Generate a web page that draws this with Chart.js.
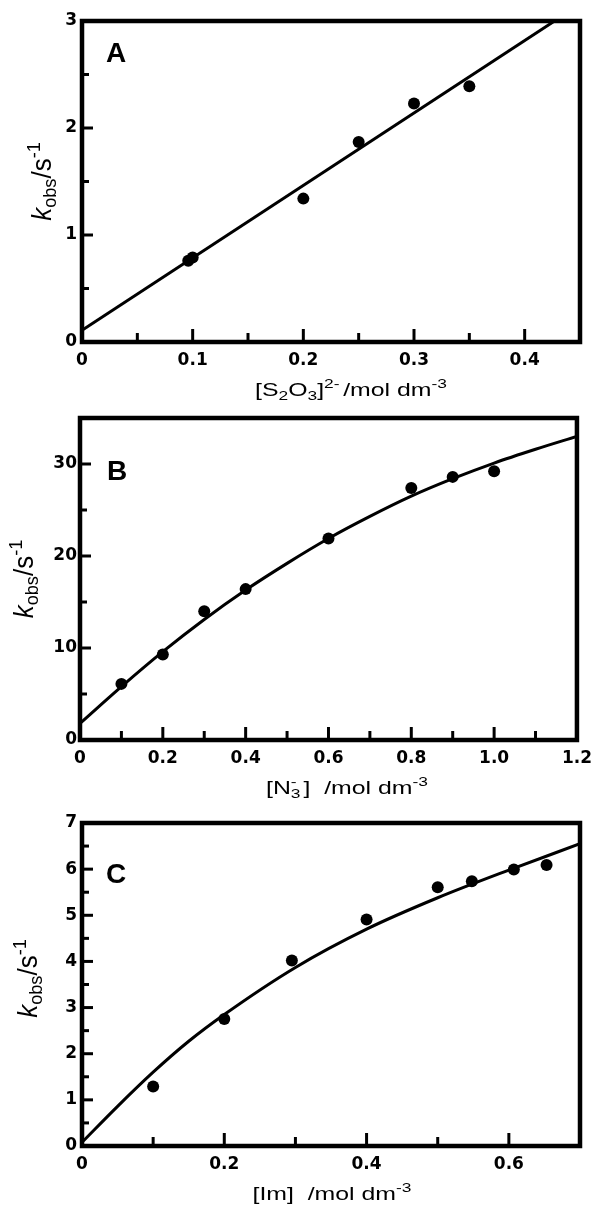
<!DOCTYPE html>
<html>
<head>
<meta charset="utf-8">
<script src="https://cdn.jsdelivr.net/npm/chart.js@4.4.1/dist/chart.umd.min.js"></script>
<style>
    html, body { margin: 0; padding: 0; background: #fff; width: 600px; height: 1208px; overflow: hidden; }
    .panel { position: absolute; left: 0; width: 600px; }
</style>
</head>
<body>
<div class="panel" style="top:0;height:400px"><canvas id="chartA" width="600" height="400"></canvas></div>
<div class="panel" style="top:400px;height:400px"><canvas id="chartB" width="600" height="400"></canvas></div>
<div class="panel" style="top:800px;height:408px"><canvas id="chartC" width="600" height="408"></canvas></div>
<script>
// A: thiosulfate
const aX = [0.096, 0.1, 0.2, 0.25, 0.3, 0.35]
const aY = [0.76, 0.79, 1.34, 1.87, 2.23, 2.39]
const aFitX = [0, 0.427]
const aFitY = [0.11, 3.0]
const aXTicks = [0, 0.1, 0.2, 0.3, 0.4]
const aXLabels = ["0", "0.1", "0.2", "0.3", "0.4"]
const aXMinor = [0.05, 0.15, 0.25, 0.35]
const aYTicks = [0, 1, 2, 3]
const aYMinor = [0.5, 1.5, 2.5]

// B: azide
const bX = [0.1, 0.2, 0.3, 0.4, 0.6, 0.8, 0.9, 1.0]
const bY = [6.1, 9.3, 14.0, 16.4, 21.9, 27.4, 28.6, 29.2]
const bFitX = [0, 0.1, 0.2, 0.3, 0.4, 0.5, 0.6, 0.7, 0.8, 0.9, 1.0, 1.1, 1.2]
const bFitY = [1.8, 5.8, 9.6, 13.1, 16.3, 19.2, 21.9, 24.3, 26.5, 28.4, 30.1, 31.6, 33.0]
const bXTicks = [0, 0.2, 0.4, 0.6, 0.8, 1.0, 1.2]
const bXLabels = ["0", "0.2", "0.4", "0.6", "0.8", "1.0", "1.2"]
const bXMinor = [0.1, 0.3, 0.5, 0.7, 0.9, 1.1]
const bYTicks = [0, 10, 20, 30]
const bYMinor = [5, 15, 25]

// C: imidazole
const cX = [0.1, 0.2, 0.295, 0.4, 0.5, 0.548, 0.607, 0.653]
const cY = [1.29, 2.75, 4.02, 4.91, 5.61, 5.74, 5.99, 6.09]
const cFitX = [0, 0.05, 0.1, 0.15, 0.2, 0.3, 0.4, 0.5, 0.6, 0.7]
const cFitY = [0.08, 0.86, 1.6, 2.27, 2.85, 3.87, 4.7, 5.38, 5.98, 6.55]
const cXTicks = [0, 0.2, 0.4, 0.6]
const cXLabels = ["0", "0.2", "0.4", "0.6"]
const cXMinor = [0.1, 0.3, 0.5]
const cYTicks = [0, 1, 2, 3, 4, 5, 6, 7]
const cYMinor = [0.5, 1.5, 2.5, 3.5, 4.5, 5.5, 6.5]

const yTitle = [{ t: "k", it: true }, { t: "obs", sub: true }, { t: "/s" }, { t: "-1", sup: true }]

function pairs(xs, ys) {
    return xs.map((x, i) => ({ x: x, y: ys[i] }))
}

function drawRich(ctx, parts, x, y, size, sx, vertical) {
    ctx.save()
    ctx.translate(x, y)
    ctx.scale(sx, 1)
    if (vertical) ctx.rotate(-Math.PI / 2)
    ctx.fillStyle = "#000"
    ctx.textBaseline = "alphabetic"
    ctx.textAlign = "left"
    const fontOf = p => (p.it ? "italic " : "") + (p.sub || p.sup ? size * 0.7 : size) + "px 'Liberation Sans', Arial, sans-serif"
    let total = 0
    parts.forEach(p => {
        ctx.font = fontOf(p)
        p.w = ctx.measureText(p.t).width + (p.gap || 0) * size
        total += p.w
    })
    let cx = -total / 2
    parts.forEach(p => {
        ctx.font = fontOf(p)
        const dy = p.sub ? 0.2 * size : p.sup ? -0.42 * size : 0
        ctx.fillText(p.t, cx, dy)
        if (p.over) ctx.fillText(p.over, cx, -0.45 * size)
        cx += p.w
    })
    ctx.restore()
}

// frame, tick marks, titles and panel letter
const decor = {
    id: "decor",
    afterDatasetsDraw(chart, args, o) {
        const ctx = chart.ctx
        const a = chart.chartArea
        const xs = chart.scales.x
        const ys = chart.scales.y
        ctx.save()
        ctx.strokeStyle = "#000"
        ctx.lineWidth = 3
        ctx.lineCap = "butt"
        const xt = (v, len) => {
            const px = xs.getPixelForValue(v)
            ctx.beginPath(); ctx.moveTo(px, a.bottom); ctx.lineTo(px, a.bottom - len); ctx.stroke()
        }
        const yt = (v, len) => {
            const py = ys.getPixelForValue(v)
            ctx.beginPath(); ctx.moveTo(a.left, py); ctx.lineTo(a.left + len, py); ctx.stroke()
        }
        o.xTicks.forEach(v => xt(v, 13))
        o.xMinor.forEach(v => xt(v, 9))
        o.yTicks.forEach(v => yt(v, 11))
        o.yMinor.forEach(v => yt(v, 7))
        ctx.lineWidth = 4.5
        ctx.strokeRect(a.left, a.top, a.right - a.left, a.bottom - a.top)
        ctx.restore()

        ctx.save()
        ctx.fillStyle = "#000"
        ctx.font = "bold 28px 'Liberation Sans', Arial, sans-serif"
        ctx.textBaseline = "alphabetic"
        ctx.fillText(o.letter, o.letterX, o.letterY)
        ctx.restore()

        drawRich(ctx, o.xTitle, o.xTitleX, a.bottom + 54, 18, 1.38, false)
        drawRich(ctx, yTitle, o.yTitleX, (a.top + a.bottom) / 2 + (o.yTitleDy || 0), 26, 1.05, true)
    }
}

function makePanel(id, pts, fit, p) {
    const tickFont = { family: "'DejaVu Sans', sans-serif", size: 17, weight: "bold" }
    return new Chart(document.getElementById(id), {
        type: "scatter",
        data: {
            datasets: [
                {
                    data: fit,
                    showLine: true,
                    pointRadius: 0,
                    borderColor: "#000",
                    borderWidth: 3,
                    cubicInterpolationMode: "monotone",
                    order: 2
                },
                {
                    data: pts,
                    pointRadius: 6,
                    pointBackgroundColor: "#000",
                    pointBorderWidth: 0,
                    order: 1
                }
            ]
        },
        options: {
            responsive: false,
            animation: false,
            devicePixelRatio: 1,
            events: [],
            layout: { padding: { top: p.top, right: p.right, left: 0, bottom: 0 } },
            plugins: {
                legend: { display: false },
                tooltip: { enabled: false },
                decor: p
            },
            scales: {
                x: {
                    type: "linear",
                    min: 0,
                    max: p.xMax,
                    afterFit: s => { s.height = p.xAxisH },
                    afterBuildTicks: s => { s.ticks = p.xTicks.map(v => ({ value: v })) },
                    ticks: {
                        color: "#000",
                        font: tickFont,
                        padding: 8,
                        maxRotation: 0,
                        autoSkip: false,
                        callback: (v, i) => p.xLabels[i]
                    },
                    grid: { display: false, drawTicks: false },
                    border: { display: false }
                },
                y: {
                    type: "linear",
                    min: 0,
                    max: p.yMax,
                    afterFit: s => { s.width = p.left },
                    afterBuildTicks: s => { s.ticks = p.yTicks.map(v => ({ value: v })) },
                    ticks: {
                        color: "#000",
                        font: tickFont,
                        padding: p.yPad,
                        autoSkip: false,
                        callback: v => String(v)
                    },
                    grid: { display: false, drawTicks: false },
                    border: { display: false }
                }
            }
        },
        plugins: [decor]
    })
}

makePanel("chartA", pairs(aX, aY), pairs(aFitX, aFitY), {
    top: 21, right: 20, left: 82, xAxisH: 58, xMax: 0.45, yMax: 3, yPad: 5,
    xTicks: aXTicks, xLabels: aXLabels, xMinor: aXMinor, yTicks: aYTicks, yMinor: aYMinor,
    letter: "A", letterX: 106, letterY: 62,
    xTitle: [{ t: "[S" }, { t: "2", sub: true }, { t: "O" }, { t: "3", sub: true }, { t: "]" }, { t: "2-", sup: true, gap: 0.15 }, { t: "/mol dm" }, { t: "-3", sup: true }],
    xTitleX: 351, yTitleX: 51
})

makePanel("chartB", pairs(bX, bY), pairs(bFitX, bFitY), {
    top: 18, right: 22, left: 80, xAxisH: 60, xMax: 1.2, yMax: 35, yPad: 3,
    xTicks: bXTicks, xLabels: bXLabels, xMinor: bXMinor, yTicks: bYTicks, yMinor: bYMinor,
    letter: "B", letterX: 107, letterY: 80,
    xTitle: [{ t: "[N" }, { t: "3", sub: true, over: "-", gap: 0.12 }, { t: "]" }, { t: "  /mol dm" }, { t: "-3", sup: true }],
    xTitleX: 347, yTitleX: 33
})

makePanel("chartC", pairs(cX, cY), pairs(cFitX, cFitY), {
    top: 23, right: 20, left: 82, xAxisH: 62, xMax: 0.7, yMax: 7, yPad: 5,
    xTicks: cXTicks, xLabels: cXLabels, xMinor: cXMinor, yTicks: cYTicks, yMinor: cYMinor,
    letter: "C", letterX: 106, letterY: 83,
    xTitle: [{ t: "[Im]" }, { t: "  /mol dm" }, { t: "-3", sup: true }],
    xTitleX: 332, yTitleX: 37, yTitleDy: -6
})
</script>
</body>
</html>
